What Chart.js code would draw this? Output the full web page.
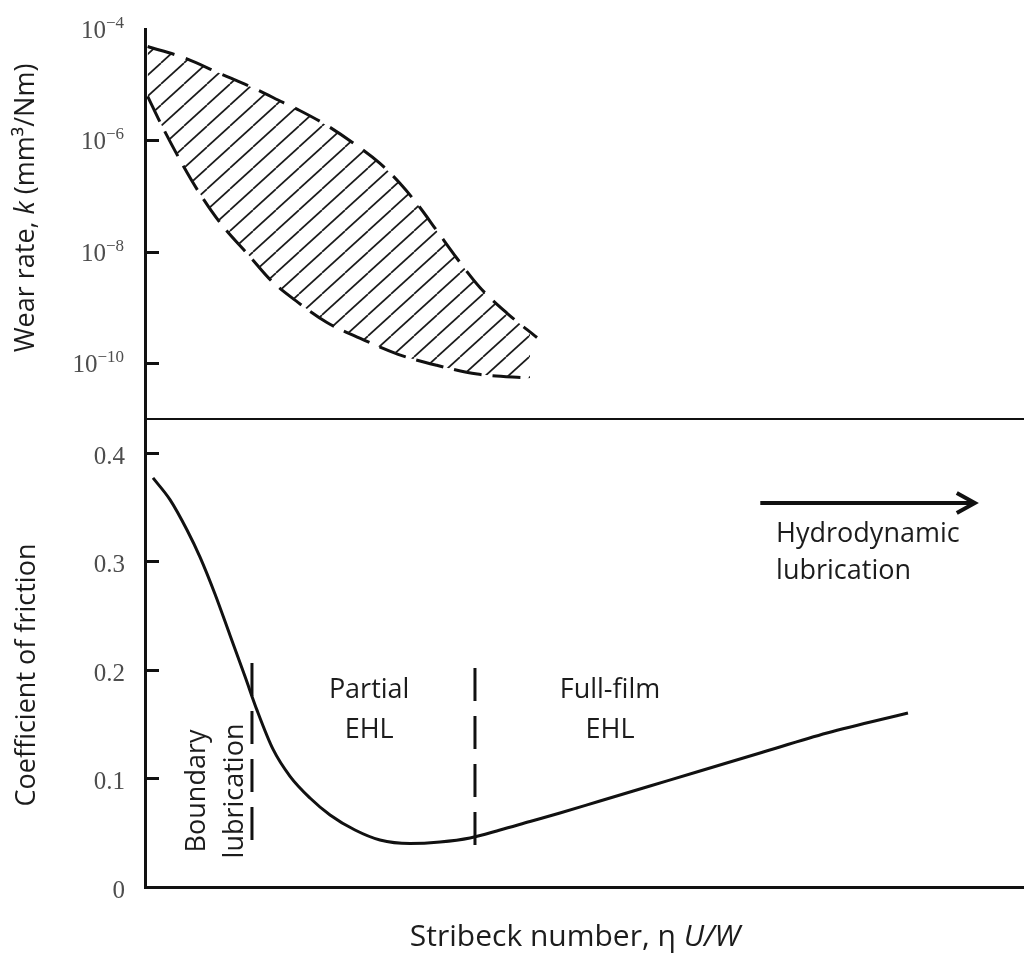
<!DOCTYPE html>
<html>
<head>
<meta charset="utf-8">
<title>Stribeck curve and wear rate</title>
<script src="https://cdn.jsdelivr.net/npm/chart.js@4.4.1/dist/chart.umd.min.js"></script>
<style>
  html, body { margin: 0; padding: 0; background: #fff; }
  #page { position: relative; width: 1024px; height: 954px; overflow: hidden; }
  #wearChart { position: absolute; left: 0; top: 0; }
  #frictionChart { position: absolute; left: 0; top: 419px; }
</style>
</head>
<body>
<div id="page">
  <canvas id="wearChart" width="1024" height="421"></canvas>
  <canvas id="frictionChart" width="1024" height="535"></canvas>
</div>
<script>
// Stribeck number axis has no ticks, so x just runs 0..100 across both panels

// wear band (top panel), k in mm^3/Nm
const wearUpperX = [0.3, 4.3, 8.5, 12.7, 15.7, 17.6, 20.5, 23.6, 26.7, 29.0, 31.1, 33.2, 35.5, 38.1, 41.2, 44.6];
const wearUpperK = [4.85e-5, 3.1e-5, 1.6e-5, 8.2e-6, 4.8e-6, 3.45e-6, 1.94e-6, 9.2e-7, 3.9e-7, 1.7e-7, 6.8e-8, 2.4e-8, 7.6e-9, 2.3e-9, 7.9e-10, 2.9e-10];
const wearLowerX = [0.3, 1.9, 4.0, 6.0, 8.5, 12.0, 14.3, 17.4, 20.7, 24.5, 28.8, 33.2, 37.8, 43.8];
const wearLowerK = [6.2e-6, 1.86e-6, 4.4e-7, 1.27e-7, 3.4e-8, 8.0e-9, 3.1e-9, 1.24e-9, 5.4e-10, 2.8e-10, 1.45e-10, 9.2e-11, 6.4e-11, 5.4e-11];
const wearTicks = [1e-4, 1e-6, 1e-8, 1e-10];

// Stribeck curve (bottom panel)
const stribeckX = [0.91, 2.84, 4.78, 6.26, 7.96, 9.67, 11.38, 12.74, 14.56, 16.5, 18.77, 21.05, 23.89, 26.73, 30.15, 33.56, 36.97, 40.39, 43.8, 47.21, 51.76, 57.45, 63.14, 69.97, 77.59, 86.8];
const frictionMu = [0.377, 0.357, 0.329, 0.304, 0.270, 0.232, 0.194, 0.163, 0.127, 0.102, 0.082, 0.0664, 0.0525, 0.0433, 0.0401, 0.0415, 0.0452, 0.0525, 0.0604, 0.0682, 0.0793, 0.0931, 0.1069, 0.1235, 0.1419, 0.1604];
const frictionTicks = [0, 0.1, 0.2, 0.3, 0.4];

// dashed regime boundaries
const boundaryX = [12.17, 37.54];
const boundaryTop = [0.2065, 0.2018];
const boundaryBottom = [0.0424, 0.0369];

const inkColor = '#111';
const textColor = '#1c1c1c';
const tickColor = '#4d4d4d';
const sansFont = '"Open Sans", "Noto Sans", sans-serif';
const serifFont = '"Liberation Serif", "DejaVu Serif", serif';

// annotations, placed in data units
const regionLabels = [
    { lines: ['Partial', 'EHL'], x: 25.5, y: 0.174, align: 'center', rot: 0, gap: 40 },
    { lines: ['Full-film', 'EHL'], x: 52.9, y: 0.174, align: 'center', rot: 0, gap: 40 },
    { lines: ['Boundary', 'lubrication'], x: 6.8, y: 0.0885, align: 'center', rot: -90, gap: 38 },
    { lines: ['Hydrodynamic', 'lubrication'], x: 71.8, y: 0.318, align: 'left', rot: 0, gap: 37 }
];
const arrowFrom = { x: 70.0, y: 0.354 };
const arrowTo = { x: 94.4, y: 0.354 };

const pts = (xs, ys) => xs.map((x, i) => ({ x: x, y: ys[i] }));

function hatchPattern() {
    const w = 23, h = 21;
    const c = document.createElement('canvas');
    c.width = w; c.height = h;
    const g = c.getContext('2d');
    g.strokeStyle = '#1a1a1a';
    g.lineWidth = 1.7;
    for (let k = -1; k <= 1; k++) {
        g.beginPath();
        g.moveTo(k * w, h);
        g.lineTo(k * w + w, 0);
        g.stroke();
    }
    return g.createPattern(c, 'repeat');
}

// draws a run of differently styled pieces (italic k, U/W) as one line
function richText(ctx, parts, x, y, rot, align) {
    ctx.save();
    ctx.translate(x, y);
    ctx.rotate(rot * Math.PI / 180);
    let total = 0;
    parts.forEach(p => { ctx.font = p.font; total += ctx.measureText(p.text).width; });
    let cx = align === 'center' ? -total / 2 : 0;
    ctx.textAlign = 'left';
    ctx.textBaseline = 'alphabetic';
    ctx.fillStyle = textColor;
    parts.forEach(p => {
        ctx.font = p.font;
        ctx.fillText(p.text, cx, 0);
        cx += ctx.measureText(p.text).width;
    });
    ctx.restore();
}

function insideTicks(ctx, chart, values) {
    const y = chart.scales.y, left = chart.chartArea.left;
    ctx.save();
    ctx.strokeStyle = inkColor;
    ctx.lineWidth = 3;
    values.forEach(v => {
        const py = Math.round(y.getPixelForValue(v)) + 0.5;
        ctx.beginPath();
        ctx.moveTo(left, py);
        ctx.lineTo(left + 14, py);
        ctx.stroke();
    });
    ctx.restore();
}

const normal = `27px ${sansFont}`;
const italic = `italic 27px ${sansFont}`;

const wearDecor = {
    id: 'wearDecor',
    afterDraw(chart) {
        const ctx = chart.ctx, y = chart.scales.y;
        insideTicks(ctx, chart, wearTicks.slice(1));

        // 10^-n labels with raised exponent
        ctx.save();
        ctx.fillStyle = tickColor;
        ctx.textBaseline = 'alphabetic';
        wearTicks.forEach(v => {
            const py = y.getPixelForValue(v);
            const exp = '\u2212' + Math.round(-Math.log10(v));
            ctx.font = `17px ${serifFont}`;
            const ew = ctx.measureText(exp).width;
            ctx.textAlign = 'left';
            ctx.fillText(exp, 124 - ew, py - 1);
            ctx.font = `25px ${serifFont}`;
            ctx.textAlign = 'right';
            ctx.fillText('10', 124 - ew, py + 9);
        });
        ctx.restore();

        richText(ctx, [
            { text: 'Wear rate, ', font: normal },
            { text: 'k', font: italic },
            { text: ' (mm\u00b3/Nm)', font: normal }
        ], 34, 208, -90, 'center');
    }
};

const frictionDecor = {
    id: 'frictionDecor',
    afterDraw(chart) {
        const ctx = chart.ctx, xs = chart.scales.x, ys = chart.scales.y;
        insideTicks(ctx, chart, frictionTicks.slice(1));

        richText(ctx, [{ text: 'Coefficient of friction', font: normal }], 35, 256, -90, 'center');
        richText(ctx, [
            { text: 'Stribeck number, \u03b7 ', font: `30px ${sansFont}` },
            { text: 'U/W', font: `italic 30px ${sansFont}` }
        ], 575, 527, 0, 'center');

        regionLabels.forEach(lab => {
            const px = xs.getPixelForValue(lab.x), py = ys.getPixelForValue(lab.y);
            lab.lines.forEach((line, i) => {
                if (lab.rot === -90) {
                    richText(ctx, [{ text: line, font: normal }], px + i * lab.gap, py, -90, lab.align);
                } else {
                    richText(ctx, [{ text: line, font: normal }], px, py + i * lab.gap, 0, lab.align);
                }
            });
        });

        // arrow towards hydrodynamic lubrication
        const ax0 = xs.getPixelForValue(arrowFrom.x), ay = ys.getPixelForValue(arrowFrom.y);
        const ax1 = xs.getPixelForValue(arrowTo.x);
        ctx.save();
        ctx.strokeStyle = inkColor;
        ctx.lineWidth = 4;
        ctx.lineJoin = 'miter';
        ctx.beginPath();
        ctx.moveTo(ax0, ay);
        ctx.lineTo(ax1 - 2, ay);
        ctx.stroke();
        ctx.beginPath();
        ctx.moveTo(ax1 - 18, ay - 10);
        ctx.lineTo(ax1, ay);
        ctx.lineTo(ax1 - 18, ay + 10);
        ctx.stroke();
        ctx.restore();
    }
};

const hiddenGrid = { display: false, drawTicks: false };

new Chart(document.getElementById('wearChart'), {
    type: 'line',
    data: {
        datasets: [
            {
                label: 'Wear rate upper bound',
                data: pts(wearUpperX, wearUpperK),
                borderColor: inkColor, borderWidth: 3, borderDash: [28, 12],
                pointRadius: 0, cubicInterpolationMode: 'monotone',
                fill: '+1', backgroundColor: hatchPattern()
            },
            {
                label: 'Wear rate lower bound',
                data: pts(wearLowerX, wearLowerK),
                borderColor: inkColor, borderWidth: 3, borderDash: [28, 11],
                pointRadius: 0, cubicInterpolationMode: 'monotone',
                fill: false
            }
        ]
    },
    options: {
        responsive: false, animation: false, devicePixelRatio: 1,
        layout: { padding: { top: 29, bottom: 2, left: 0, right: 0 } },
        plugins: { legend: { display: false }, tooltip: { enabled: false } },
        scales: {
            x: {
                type: 'linear', min: 0, max: 100,
                grid: hiddenGrid, ticks: { display: false },
                border: { color: inkColor, width: 2 },
                afterFit: s => { s.height = 0; }
            },
            y: {
                type: 'logarithmic', min: 1e-11, max: 1e-4,
                grid: hiddenGrid, ticks: { display: false },
                border: { color: inkColor, width: 3 },
                afterFit: s => { s.width = 145; s.paddingTop = 0; s.paddingBottom = 0; }
            }
        }
    },
    plugins: [wearDecor]
});

new Chart(document.getElementById('frictionChart'), {
    type: 'line',
    data: {
        datasets: [
            {
                label: 'Coefficient of friction',
                data: pts(stribeckX, frictionMu),
                borderColor: inkColor, borderWidth: 3,
                pointRadius: 0, cubicInterpolationMode: 'monotone', fill: false
            },
            ...boundaryX.map((x, i) => ({
                label: 'Regime boundary',
                data: [{ x: x, y: boundaryTop[i] }, { x: x, y: boundaryBottom[i] }],
                borderColor: inkColor, borderWidth: 3, borderDash: [33, 15],
                pointRadius: 0, fill: false
            }))
        ]
    },
    options: {
        responsive: false, animation: false, devicePixelRatio: 1,
        layout: { padding: 0 },
        plugins: { legend: { display: false }, tooltip: { enabled: false } },
        scales: {
            x: {
                type: 'linear', min: 0, max: 100,
                grid: hiddenGrid, ticks: { display: false },
                border: { color: inkColor, width: 3 },
                afterFit: s => { s.height = 67; }
            },
            y: {
                type: 'linear', min: 0, max: 0.4313,
                grid: hiddenGrid,
                afterBuildTicks: s => { s.ticks = frictionTicks.map(v => ({ value: v })); },
                ticks: {
                    color: tickColor, padding: 20, labelOffset: 4,
                    font: { family: serifFont, size: 25 },
                    callback: v => String(v)
                },
                border: { color: inkColor, width: 3 },
                afterFit: s => { s.width = 145; s.paddingTop = 0; s.paddingBottom = 0; }
            }
        }
    },
    plugins: [frictionDecor]
});
</script>
</body>
</html>
